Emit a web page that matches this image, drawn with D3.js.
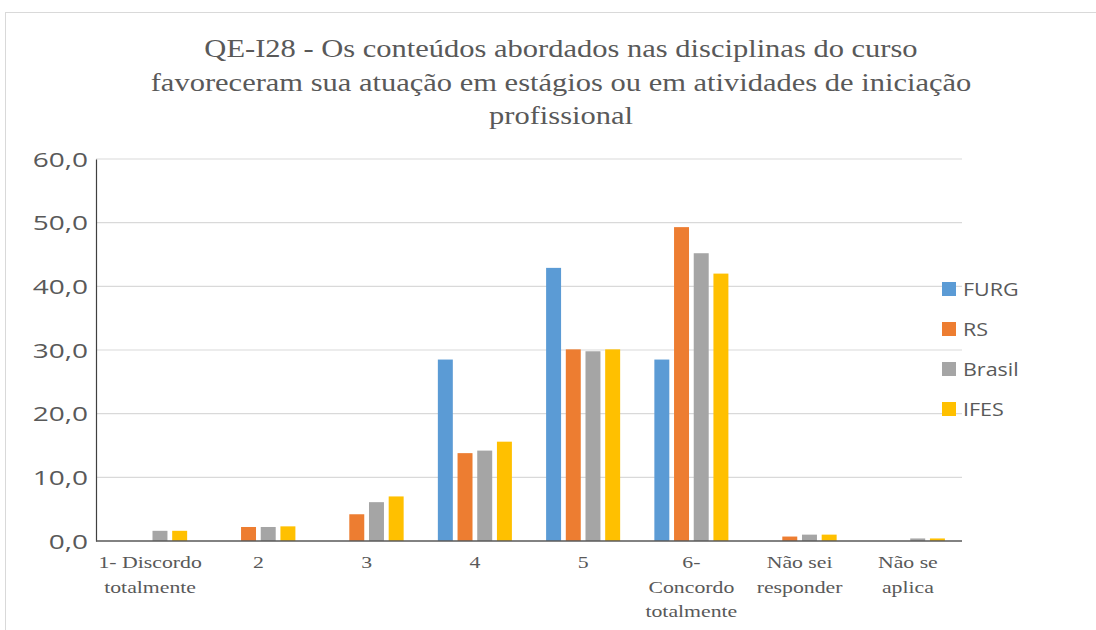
<!DOCTYPE html>
<html><head><meta charset="utf-8">
<script src="https://cdn.jsdelivr.net/npm/d3@7/dist/d3.min.js"></script>
<style>body{margin:0;background:#fff}svg{display:block}</style>
</head><body>
<svg id="c" width="1096" height="630"></svg>
<script>
const categories = [["1- Discordo","totalmente"],["2"],["3"],["4"],["5"],["6-","Concordo","totalmente"],["Não sei","responder"],["Não se","aplica"]];
const seriesNames = ["FURG","RS","Brasil","IFES"];
const colors = ["#5b9bd5","#ed7d31","#a5a5a5","#ffc000"];
const FURG   = [0, 0, 0, 28.5, 42.9, 28.5, 0, 0];
const RS     = [0, 2.2, 4.2, 13.8, 30.1, 49.3, 0.7, 0];
const Brasil = [1.6, 2.2, 6.1, 14.2, 29.8, 45.2, 1.0, 0.4];
const IFES   = [1.6, 2.3, 7.0, 15.6, 30.1, 42.0, 1.0, 0.4];
const yTicks = [0,10,20,30,40,50,60];
const titleLines = ["QE-I28 - Os conteúdos abordados nas disciplinas do curso","favoreceram sua atuação em estágios ou em atividades de iniciação","profissional"];

(function(){
const values = [FURG, RS, Brasil, IFES];
const svg = d3.select("#c");
const txt = "#595959";
const serif = "Liberation Serif, serif";
const sans = "Open Sans, Liberation Sans, sans-serif";
function stretch(sel, f){
  sel.each(function(){
    const w = this.getComputedTextLength();
    d3.select(this).attr("textLength", w*f).attr("lengthAdjust","spacingAndGlyphs");
  });
}

svg.append("rect").attr("x",5.5).attr("y",12.5).attr("width",1200).attr("height",700)
  .attr("fill","none").attr("stroke","#d9d9d9");

const tt = svg.append("g").selectAll("text").data(titleLines).join("text")
  .attr("x",561).attr("y",(d,i)=>57+i*33.5).attr("text-anchor","middle")
  .attr("font-family",serif).attr("font-size",25).attr("fill",txt)
  .text(d=>d);
stretch(tt, 1.22);

const pl=96, pr=962, pt=159, pb=541;
const x0 = d3.scaleBand().domain(d3.range(categories.length)).range([pl,pr]).paddingInner(0.316).paddingOuter(0.158);
const x1 = d3.scaleBand().domain(d3.range(seriesNames.length)).range([0,x0.bandwidth()]).paddingInner(0.24).paddingOuter(0);
const y = d3.scaleLinear().domain([0,60]).range([pb,pt]);

svg.append("g").selectAll("line").data(yTicks.filter(t=>t>0)).join("line")
  .attr("x1",pl).attr("x2",pr).attr("y1",d=>y(d)).attr("y2",d=>y(d))
  .attr("stroke","#d9d9d9").attr("stroke-width",1.2);

const g = svg.append("g");
categories.forEach((c,ci)=>{
  values.forEach((s,si)=>{
    if(s[ci]<=0) return;
    g.append("rect").attr("x",x0(ci)+x1(si)).attr("width",x1.bandwidth())
      .attr("y",y(s[ci])).attr("height",pb-y(s[ci])).attr("fill",colors[si]);
  });
});

const ya = svg.append("g").attr("transform",`translate(${pl},0)`)
  .call(d3.axisLeft(y).tickValues(yTicks).tickSize(0).tickPadding(8).tickFormat(d=>d3.format(".1f")(d).replace(".",",")));
ya.select(".domain").attr("stroke","#404040").attr("stroke-width",1.2);
const yt = ya.selectAll("text").attr("font-family",sans).attr("font-size",20).attr("fill",txt).attr("dy","0.36em");
stretch(yt, 1.4);

svg.append("line").attr("x1",pl).attr("x2",pr).attr("y1",pb).attr("y2",pb).attr("stroke","#595959").attr("stroke-width",1.5);

const xl = svg.append("g");
categories.forEach((c,ci)=>{
  c.forEach((line,li)=>{
    xl.append("text").attr("text-anchor","middle")
      .attr("font-family",serif).attr("font-size",17).attr("fill",txt)
      .attr("x",x0(ci)+x0.bandwidth()/2).attr("y",568+li*24.5).text(line);
  });
});
stretch(xl.selectAll("text"), 1.28);

const lg = svg.append("g");
seriesNames.forEach((n,i)=>{
  const yy = 289+i*40;
  lg.append("rect").attr("x",942).attr("y",yy-7).attr("width",14).attr("height",14).attr("fill",colors[i]);
  lg.append("text").attr("x",963).attr("y",yy+7).attr("font-family",sans)
    .attr("font-size",19).attr("fill",txt).text(n);
});
stretch(lg.selectAll("text"), 1.13);
})();
</script>
</body></html>
